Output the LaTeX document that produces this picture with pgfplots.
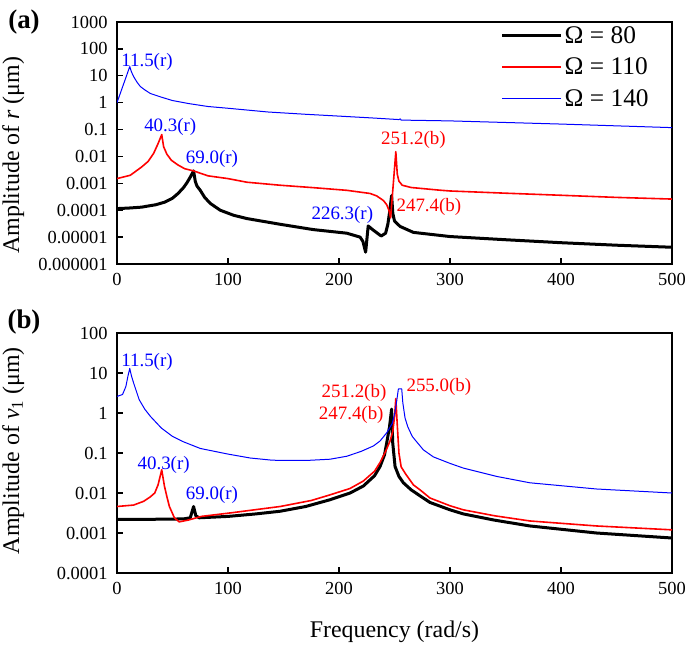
\documentclass[border=0pt]{standalone}
\usepackage{fontspec}
\setmainfont{Liberation Serif}
\usepackage{pgfplots}
\pgfplotsset{compat=1.18}

\tikzset{
  blk/.style={black, line width=3bp, line join=round},
  rd/.style={red, line width=1.6bp, line join=round},
  bl/.style={blue, line width=1bp, line join=round},
}

\begin{document}
\begin{tikzpicture}
\useasboundingbox (0,0) rectangle (685bp,-646bp);

% ---------------- panel (a) ----------------
\begin{axis}[
  scale only axis,
  width=555bp, height=242bp,
  xmin=0, xmax=500,
  ymode=log,
  xtick={0,100,200,300,400,500},
  xticklabels={0,100,200,300,400,500},
  tick align=inside,
  xtick pos=bottom, ytick pos=left,
  major tick length=6bp,
  yminorticks=false, xminorticks=false,
  axis line style={line width=1.5bp},
  every tick/.style={black, line width=1.3bp},
  /pgf/number format/assume math mode=true,
  tick label style={font=\fontsize{18.5}{20}\selectfont},
  xticklabel style={yshift=-6bp},
  yticklabel style={xshift=-6bp},
  label style={font=\fontsize{24}{26}\selectfont},
  at={(117bp,-264bp)}, anchor=south west,
  ymin=1e-6, ymax=1000,
  ytick={1e-6,1e-5,1e-4,1e-3,1e-2,1e-1,1,10,100,1000},
  yticklabels={0.000001,0.00001,0.0001,0.001,0.01,0.1,1,10,100,1000},
  ylabel={Amplitude of \textit{r} (μm)},
  ylabel style={at={(axis description cs:-0.187,0.45)}, anchor=center},
  legend style={draw=none, fill=none, at={(axis description cs:0.962,0.99)},
    anchor=north east, font=\fontsize{25.5}{25.5}\selectfont, row sep=9bp,
    inner sep=0pt, /tikz/every even column/.append style={column sep=4bp}},
  legend cell align=left,
  legend image code/.code={\draw[#1] (0bp,0bp) -- (59bp,0bp);},
]
\addplot[blk] coordinates {
(0,1.15e-4) (10,1.2e-4) (22,1.3e-4) (35,1.6e-4) (43,2.0e-4) (50,2.8e-4)
(55,4.2e-4) (60,7.0e-4) (63,1.05e-3) (66,1.7e-3) (69,2.9e-3) (70.5,1.2e-3)
(72,8e-4) (75,5.5e-4) (79,3.0e-4) (84,1.8e-4) (93,1.0e-4) (105,6.5e-5)
(117,4.9e-5) (147,3.0e-5) (177,1.9e-5) (207,1.4e-5) (219,1.0e-5) (221.5,7e-6)
(224,2.75e-6) (226.3,2.6e-5) (231,1.8e-5) (238,1.1e-5) (242,1.4e-5)
(244,3.0e-5) (245.5,8e-5) (247.4,3.5e-4) (248.5,7.5e-5) (250,4.0e-5)
(255,2.5e-5) (267,1.5e-5) (300,1.05e-5) (350,8e-6) (400,6.2e-6)
(450,5.0e-6) (500,4.2e-6)
};
\addlegendentry{Ω = 80}
\addplot[rd] coordinates {
(0,1.5e-3) (12,2.0e-3) (22,4.0e-3) (28,6.5e-3) (33,1.3e-2) (37,3.0e-2)
(40.3,6.5e-2) (42,2.3e-2) (45,1.2e-2) (49,7.2e-3) (55,4.8e-3) (61,3.5e-3)
(69,2.9e-3) (82,1.9e-3) (100,1.5e-3) (117,1.1e-3) (147,8.5e-4) (177,6.9e-4)
(207,5.5e-4) (228,4.2e-4) (234,3.4e-4) (240,2.3e-4) (243,1.6e-4)
(245,1.0e-4) (246.5,5.2e-5) (251.2,1.5e-2) (252.5,2.2e-3) (254,1.2e-3)
(257,8.5e-4) (265,7.0e-4) (290,5.6e-4) (300,5.2e-4) (350,4.3e-4)
(400,3.6e-4) (450,3.0e-4) (500,2.6e-4)
};
\addlegendentry{Ω = 110}
\addplot[bl] coordinates {
(0,1.0) (11.5,22) (13,14) (15,9.3) (18,5.8) (21,4.0) (25,3.0) (30,2.2)
(40,1.6) (50,1.2) (65,0.92) (82,0.72) (100,0.62) (136,0.45) (170,0.37)
(192,0.33) (230,0.27) (254,0.235) (255.2,0.25) (256,0.225) (300,0.21)
(400,0.16) (500,0.118)
};
\addlegendentry{Ω = 140}

\node[blue, font=\fontsize{19}{20}\selectfont] at (axis cs:27,33) {11.5(r)};
\node[blue, font=\fontsize{19}{20}\selectfont] at (axis cs:48,0.125) {40.3(r)};
\node[blue, font=\fontsize{19}{20}\selectfont] at (axis cs:85.5,0.0079) {69.0(r)};
\node[blue, font=\fontsize{19}{20}\selectfont] at (axis cs:203,6.5e-5) {226.3(r)};
\node[red, font=\fontsize{19}{20}\selectfont] at (axis cs:267,0.04) {251.2(b)};
\node[red, font=\fontsize{19}{20}\selectfont] at (axis cs:281,1.28e-4) {247.4(b)};
\end{axis}

% ---------------- panel (b) ----------------
\begin{axis}[
  scale only axis,
  width=555bp, height=240bp,
  xmin=0, xmax=500,
  ymode=log,
  xtick={0,100,200,300,400,500},
  xticklabels={0,100,200,300,400,500},
  tick align=inside,
  xtick pos=bottom, ytick pos=left,
  major tick length=6bp,
  yminorticks=false, xminorticks=false,
  axis line style={line width=1.5bp},
  every tick/.style={black, line width=1.3bp},
  /pgf/number format/assume math mode=true,
  tick label style={font=\fontsize{18.5}{20}\selectfont},
  xticklabel style={yshift=-6bp},
  yticklabel style={xshift=-6bp},
  label style={font=\fontsize{24}{26}\selectfont},
  at={(117bp,-573bp)}, anchor=south west,
  ymin=1e-4, ymax=100,
  ytick={1e-4,1e-3,1e-2,1e-1,1,10,100},
  yticklabels={0.0001,0.001,0.01,0.1,1,10,100},
  ylabel={Amplitude of \textit{v}\textsubscript{1} (μm)},
  ylabel style={at={(axis description cs:-0.187,0.51)}, anchor=center},
  xlabel={Frequency (rad/s)},
  xlabel style={at={(axis description cs:0.5,-0.245)}, anchor=center},
]
\addplot[blk] coordinates {
(0,2.2e-3) (30,2.2e-3) (60,2.25e-3) (66,2.4e-3) (69,4.6e-3) (71,2.7e-3)
(74,2.4e-3) (100,2.6e-3) (125,3.0e-3) (147,3.5e-3) (170,4.6e-3) (192,6.8e-3)
(210,1.0e-2) (222,1.5e-2) (232,2.7e-2) (237,4.6e-2) (241,9.0e-2) (243,0.18)
(245.5,0.45) (247.4,1.25) (248.4,0.18) (250.5,4.6e-2) (254,2.6e-2)
(258,1.8e-2) (265,1.2e-2) (273,8.5e-3) (282,5.8e-3) (300,3.8e-3)
(312,3.0e-3) (340,2.1e-3) (372,1.5e-3) (432,1.0e-3) (500,7.5e-4)
};
\addplot[rd] coordinates {
(0,4.6e-3) (15,5.0e-3) (24,6.2e-3) (30,8.0e-3) (34,1.0e-2) (37,1.6e-2)
(40.3,3.8e-2) (42.7,1.5e-2) (45,8.0e-3) (47.2,4.6e-3) (51.7,2.4e-3)
(56,1.9e-3) (64,2.1e-3) (76,2.6e-3) (103,3.2e-3) (147,4.6e-3) (175,6.5e-3)
(192,9.0e-3) (210,1.3e-2) (222,2.0e-2) (232,3.5e-2) (237,5.8e-2) (242,0.11)
(246,0.2) (248.5,0.35) (250,0.8) (251.2,2.3) (252.5,0.5) (254,0.1)
(256,4.5e-2) (260,3.0e-2) (267,1.6e-2) (273,1.2e-2) (282,7.5e-3)
(300,4.8e-3) (312,3.8e-3) (340,2.7e-3) (372,2.0e-3) (432,1.5e-3) (500,1.2e-3)
};
\addplot[bl] coordinates {
(0,2.6) (5,2.9) (8,4.6) (10,8.7) (11.5,13) (13,8.5) (15,5.6) (20,2.15)
(25,1.25) (30,0.83) (40,0.42) (50,0.26) (60,0.19) (75,0.13) (100,0.094)
(120,0.075) (140,0.066) (170,0.065) (192,0.07) (207,0.083) (220,0.11)
(231,0.15) (237,0.2) (243,0.32) (248,0.55) (250.3,1.0) (252,2.0) (253.5,4.0)
(256.5,4.0) (257.5,1.8) (259.5,0.75) (262,0.45) (266,0.26) (270,0.19)
(276,0.12) (285,0.08) (300,0.055) (312,0.042) (342,0.026) (372,0.018)
(432,0.0126) (500,0.01)
};
\node[blue, font=\fontsize{19}{20}\selectfont] at (axis cs:27,19) {11.5(r)};
\node[blue, font=\fontsize{19}{20}\selectfont] at (axis cs:42,0.051) {40.3(r)};
\node[blue, font=\fontsize{19}{20}\selectfont] at (axis cs:85.5,0.0091) {69.0(r)};
\node[red, font=\fontsize{19}{20}\selectfont] at (axis cs:213.5,3.1) {251.2(b)};
\node[red, font=\fontsize{19}{20}\selectfont] at (axis cs:211,0.91) {247.4(b)};
\node[red, font=\fontsize{19}{20}\selectfont] at (axis cs:290,4.6) {255.0(b)};
\end{axis}

\node[font=\bfseries\fontsize{27}{27}\selectfont] at (24bp,-22bp) {(a)};
\node[font=\bfseries\fontsize{27}{27}\selectfont] at (24bp,-322bp) {(b)};
\end{tikzpicture}
\end{document}
